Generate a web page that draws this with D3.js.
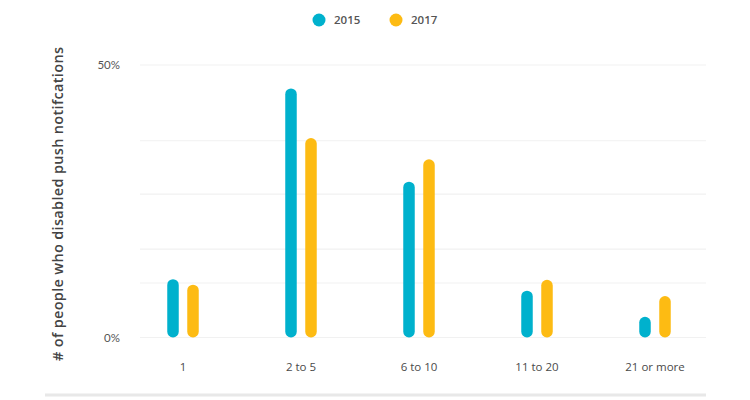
<!DOCTYPE html>
<html>
<head>
<meta charset="utf-8">
<script src="https://cdn.jsdelivr.net/npm/d3@7"></script>
<style>
  html, body { margin: 0; padding: 0; background: #fff; }
  svg { display: block; }
</style>
</head>
<body>
<svg id="chart" width="750" height="400"></svg>
<script>
const categories = ["1", "2 to 5", "6 to 10", "11 to 20", "21 or more"];
const seriesNames = ["2015", "2017"];
const values2015 = [10.7, 45.7, 28.6, 8.6, 3.8];
const values2017 = [9.7, 36.6, 32.7, 10.6, 7.6];
const yTickValues = [0, 50];
const yTickLabels = ["0%", "50%"];
const gridValues = [0, 10, 16.2, 26.3, 36.1, 50];
const yTitle = "# of people who disabled push notifcations";

const colors = { "2015": "#00b1cd", "2017": "#fdbb13" };
const seriesValues = { "2015": values2015, "2017": values2017 };

const svg = d3.select("#chart");

const y = d3.scaleLinear().domain([0, 50]).range([337.5, 65]);
const x = d3.scalePoint().domain(categories).range([183, 655]);
const sub = d3.scalePoint().domain(seriesNames).range([-10, 10]);

// gridlines
svg.append("g").selectAll("line").data(gridValues).join("line")
  .attr("x1", 140).attr("x2", 706)
  .attr("y1", d => y(d)).attr("y2", d => y(d))
  .attr("stroke", "#f1f1f1").attr("stroke-width", 1.2);

// y tick labels
svg.append("g").selectAll("text").data(yTickValues).join("text")
  .attr("x", 120).attr("y", d => y(d))
  .attr("dy", "0.35em")
  .attr("text-anchor", "end")
  .attr("font-family", "Lato, 'Open Sans', sans-serif")
  .attr("font-size", 11.5)
  .attr("fill", "#555")
  .text((d, i) => yTickLabels[i]);

// bars
const barW = 11.5;
const data = [];
categories.forEach((c, i) => {
  seriesNames.forEach(s => data.push({ cat: c, series: s, value: seriesValues[s][i] }));
});
svg.append("g").selectAll("rect").data(data).join("rect")
  .attr("x", d => x(d.cat) + sub(d.series) - barW / 2)
  .attr("width", barW)
  .attr("y", d => y(d.value))
  .attr("height", d => y(0) - y(d.value))
  .attr("rx", barW / 2).attr("ry", barW / 2)
  .attr("fill", d => colors[d.series]);

// x labels
svg.append("g").selectAll("text").data(categories).join("text")
  .attr("x", d => x(d)).attr("y", 367)
  .attr("dy", "0.35em")
  .attr("text-anchor", "middle")
  .attr("font-family", "'Open Sans', sans-serif")
  .attr("font-weight", 500)
  .attr("font-size", 11.5)
  .attr("fill", "#4a4a4a")
  .text(d => d);

// bottom rule
svg.append("line")
  .attr("x1", 45).attr("x2", 706).attr("y1", 395).attr("y2", 395)
  .attr("stroke", "#e8e8e8").attr("stroke-width", 3);

// y title
svg.append("text")
  .attr("transform", "translate(63,204) rotate(-90)")
  .attr("text-anchor", "middle")
  .attr("font-family", "'Open Sans', sans-serif")
  .attr("font-weight", 600)
  .attr("font-size", 14.5)
  .attr("textLength", 314)
  .attr("lengthAdjust", "spacing")
  .attr("fill", "#444")
  .text(yTitle);

// legend
const legendX = d3.scalePoint().domain(seriesNames).range([319, 396]);
const lg = svg.append("g").selectAll("g").data(seriesNames).join("g")
  .attr("transform", d => `translate(${legendX(d)},20)`);
lg.append("circle").attr("r", 6.5).attr("fill", d => colors[d]);
lg.append("text")
  .attr("x", 15).attr("dy", "0.35em")
  .attr("font-family", "'Open Sans', sans-serif")
  .attr("font-weight", 600)
  .attr("font-size", 11.5)
  .attr("fill", "#555")
  .text(d => d);
</script>
</body>
</html>
